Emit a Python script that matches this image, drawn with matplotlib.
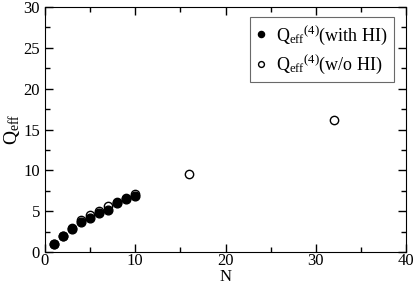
import matplotlib
matplotlib.use("Agg")
import matplotlib.pyplot as plt
from matplotlib.ticker import MultipleLocator

plt.rcParams['font.family'] = 'Liberation Serif'
plt.rcParams['mathtext.fontset'] = 'custom'
plt.rcParams['mathtext.rm'] = 'Liberation Serif'
plt.rcParams['mathtext.it'] = 'Liberation Serif:italic'

# data
n_hi = [1, 2, 3, 4, 5, 6, 7, 8, 9, 10]
q_hi = [1.0, 2.0, 2.85, 3.65, 4.2, 4.8, 5.15, 5.95, 6.5, 6.85]
n_nohi = [1, 2, 3, 4, 5, 6, 7, 8, 9, 10, 16, 32]
q_nohi = [1.0, 2.0, 2.95, 3.9, 4.5, 5.05, 5.6, 6.1, 6.65, 7.05, 9.5, 16.2]

fig = plt.figure(figsize=(4.15, 2.85), dpi=100)
ax = fig.add_axes([0.1084, 0.1158, 0.8700, 0.8596])

ax.plot(n_nohi, q_nohi, 'o', ms=6, mfc='white', mec='black', mew=1.0,
        label=r'Q$_{\rm eff}$$^{(4)}$(w/o HI)', zorder=2)
ax.plot(n_hi, q_hi, 'o', ms=6.3, mfc='black', mec='black',
        label=r'Q$_{\rm eff}$$^{(4)}$(with HI)', zorder=3)

ax.set_xlim(0, 40)
ax.set_ylim(0, 30)
ax.xaxis.set_major_locator(MultipleLocator(10))
ax.xaxis.set_minor_locator(MultipleLocator(5))
ax.yaxis.set_major_locator(MultipleLocator(5))
ax.yaxis.set_minor_locator(MultipleLocator(2.5))
ax.tick_params(which='both', direction='in', top=True, right=True, labelsize=12, width=1)
ax.tick_params(which='major', length=6)
ax.tick_params(which='minor', length=3.5)
ax.tick_params(axis='x', pad=1)
ax.set_xlabel('N', fontsize=12, labelpad=-0.5)
ax.set_ylabel(r'Q$_{\rm eff}$', fontsize=14, labelpad=1)

handles, labels = ax.get_legend_handles_labels()
leg = ax.legend(handles[::-1], labels[::-1], loc='upper right', fontsize=13,
                frameon=True, fancybox=False, edgecolor='#444444',
                markerscale=0.7, handlelength=0.5, handletextpad=0.6,
                borderpad=0.35, labelspacing=0.35, borderaxespad=0,
                bbox_to_anchor=(0.967, 0.959))
leg.get_frame().set_linewidth(0.8)

fig.savefig('out.png', dpi=100)
